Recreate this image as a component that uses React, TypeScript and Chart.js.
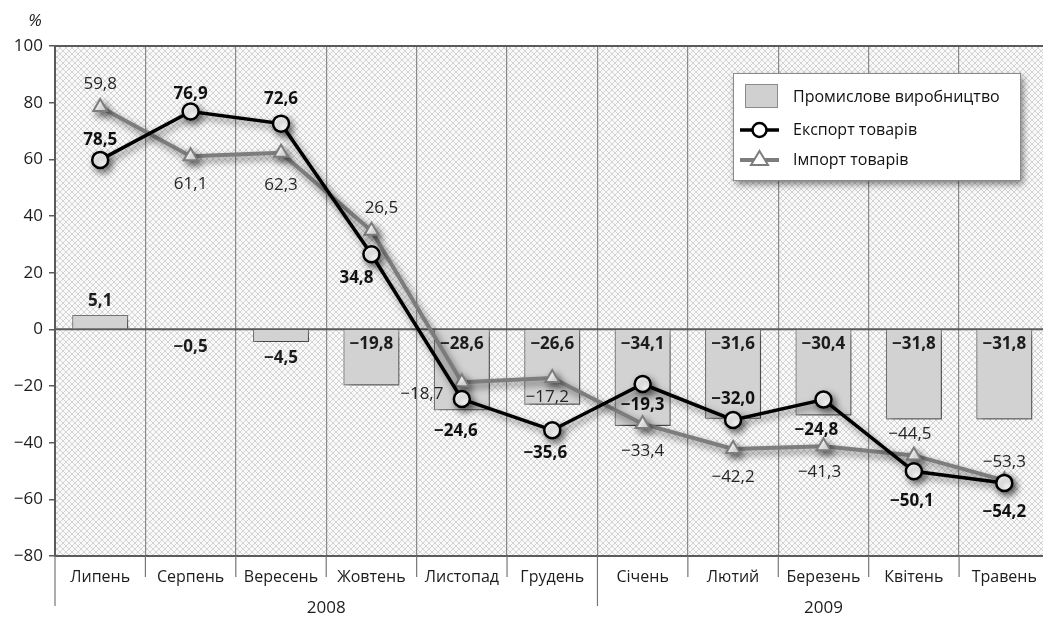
import React, { useEffect, useRef } from 'react';
import { Chart, registerables } from 'chart.js';

Chart.register(...registerables);

const categories = ['Липень', 'Серпень', 'Вересень', 'Жовтень', 'Листопад', 'Грудень', 'Січень', 'Лютий', 'Березень', 'Квітень', 'Травень'];
const years = ['2008', '2009'];
const yearStartIndex = [0, 6];
const industryValues = [5.1, -0.5, -4.5, -19.8, -28.6, -26.6, -34.1, -31.6, -30.4, -31.8, -31.8];
const exportValues = [59.8, 76.9, 72.6, 26.5, -24.6, -35.6, -19.3, -32.0, -24.8, -50.1, -54.2];
const exportLabels = ['78,5', '76,9', '72,6', '34,8', '−24,6', '−35,6', '−19,3', '−32,0', '−24,8', '−50,1', '−54,2'];
const importValues = [78.5, 61.1, 62.3, 34.8, -18.7, -17.2, -33.4, -42.2, -41.3, -44.5, -53.3];
const importLabels = ['59,8', '61,1', '62,3', '26,5', '−18,7', '−17,2', '−33,4', '−42,2', '−41,3', '−44,5', '−53,3'];
const seriesNames = ['Промислове виробництво', 'Експорт товарів', 'Імпорт товарів'];
const yMin = -80;
const yMax = 100;
const yStep = 20;

// label placement (layout only)
const exportOffsets: [number, number][] = [[0, -20], [0, -17], [0, -24], [-15, 24], [-6, 32], [-7, 23], [0, 21], [0, -21], [-7, 31], [-2, 30], [0, 29]];
const importOffsets: [number, number][] = [[0, -23], [0, 28], [0, 32], [10, -23], [-40, 12], [-5, 19], [0, 27], [0, 28], [-4, 26], [-4, -21], [0, -18]];

const FONT = '"Open Sans", "DejaVu Sans", sans-serif';

function fmt(v: number): string {
  const s = Math.abs(v).toFixed(1).replace('.', ',');
  return v < 0 ? '−' + s : s;
}

function makePattern(ctx: CanvasRenderingContext2D) {
  const c = document.createElement('canvas');
  c.width = 6;
  c.height = 6;
  const p = c.getContext('2d')!;
  p.fillStyle = '#f9f9f9';
  p.fillRect(0, 0, 6, 6);
  p.fillStyle = '#d4d4d4';
  for (let i = 0; i < 6; i++) {
    p.fillRect(i, i, 1, 1);
    p.fillRect(5 - i, i, 1, 1);
  }
  return ctx.createPattern(c, 'repeat');
}

const decorPlugin = {
  id: 'decor',
  beforeDatasetsDraw(chart: any) {
    const { ctx, chartArea: a, scales } = chart;
    const y0 = scales.y.getPixelForValue(0);
    ctx.save();
    ctx.strokeStyle = '#5a5a5a';
    ctx.lineWidth = 2;
    ctx.beginPath();
    ctx.moveTo(a.left, y0);
    ctx.lineTo(a.right, y0);
    ctx.moveTo(a.left, a.top);
    ctx.lineTo(a.right, a.top);
    ctx.stroke();
    ctx.restore();
  },
  beforeDraw(chart: any) {
    const { ctx, chartArea: a } = chart;
    ctx.save();
    ctx.fillStyle = '#ffffff';
    ctx.fillRect(0, 0, chart.width, chart.height);
    const pat = makePattern(ctx);
    if (pat) {
      ctx.fillStyle = pat;
      ctx.fillRect(a.left, a.top, a.right - a.left, a.bottom - a.top);
    }
    ctx.restore();
  },
  beforeDatasetDraw(chart: any) {
    const ctx = chart.ctx;
    ctx.save();
    ctx.shadowColor = 'rgba(0,0,0,0.5)';
    ctx.shadowBlur = 7;
    ctx.shadowOffsetX = 3;
    ctx.shadowOffsetY = 4;
  },
  afterDatasetDraw(chart: any) {
    chart.ctx.restore();
  },
  afterDatasetsDraw(chart: any) {
    const { ctx, scales } = chart;
    const x = scales.x;
    const y = scales.y;
    ctx.save();
    ctx.textAlign = 'center';
    ctx.textBaseline = 'middle';
    // bar labels
    ctx.font = `bold 17px ${FONT}`;
    ctx.fillStyle = '#1c1c1c';
    const y0 = y.getPixelForValue(0);
    industryValues.forEach((v, i) => {
      const px = x.getPixelForValue(i);
      const py = y.getPixelForValue(v);
      let ly;
      if (v >= 0) ly = py - 14;
      else if (v > -10) ly = py + 16;
      else ly = y0 + 15;
      ctx.fillText(fmt(v), px, ly);
    });
    // import labels
    ctx.font = `17px ${FONT}`;
    ctx.fillStyle = '#262626';
    importValues.forEach((v, i) => {
      const [dx, dy] = importOffsets[i];
      ctx.fillText(importLabels[i], x.getPixelForValue(i) + dx, y.getPixelForValue(v) + dy);
    });
    // export labels
    ctx.font = `bold 17px ${FONT}`;
    ctx.fillStyle = '#111111';
    exportValues.forEach((v, i) => {
      const [dx, dy] = exportOffsets[i];
      ctx.fillText(exportLabels[i], x.getPixelForValue(i) + dx, y.getPixelForValue(v) + dy);
    });
    ctx.restore();
  },
  afterDraw(chart: any) {
    const { ctx, chartArea: a, scales } = chart;
    const x = scales.x;
    const step = x.getPixelForValue(1) - x.getPixelForValue(0);
    ctx.save();
    // category ticks below axis
    ctx.strokeStyle = '#777';
    ctx.lineWidth = 1.2;
    ctx.beginPath();
    for (let i = 0; i <= categories.length; i++) {
      const bx = x.getPixelForValue(i) - step / 2;
      const isYear = yearStartIndex.includes(i) || i === categories.length;
      ctx.moveTo(bx, a.bottom);
      ctx.lineTo(bx, isYear ? a.bottom + 50 : a.bottom + 21);
    }
    ctx.stroke();
    // year labels
    ctx.font = `17px ${FONT}`;
    ctx.fillStyle = '#1c1c1c';
    ctx.textAlign = 'center';
    ctx.textBaseline = 'middle';
    years.forEach((yr, k) => {
      const s = yearStartIndex[k];
      const e = k + 1 < yearStartIndex.length ? yearStartIndex[k + 1] : categories.length;
      const cx = (x.getPixelForValue(s) + x.getPixelForValue(e - 1)) / 2;
      ctx.fillText(yr, cx, a.bottom + 52);
    });
    // percent sign
    ctx.font = `italic 17px ${FONT}`;
    ctx.fillText('%', 35, 21);

    // legend
    const lx = 733, ly = 73, lw = 287, lh = 107;
    ctx.save();
    ctx.shadowColor = 'rgba(0,0,0,0.5)';
    ctx.shadowBlur = 7;
    ctx.shadowOffsetX = 3;
    ctx.shadowOffsetY = 4;
    ctx.fillStyle = '#ffffff';
    ctx.fillRect(lx, ly, lw, lh);
    ctx.restore();
    ctx.strokeStyle = '#8a8a8a';
    ctx.lineWidth = 1;
    ctx.strokeRect(lx + 0.5, ly + 0.5, lw, lh);

    ctx.fillStyle = '#d0d0d0';
    ctx.fillRect(745, 84, 32, 23);
    ctx.strokeStyle = '#8a8a8a';
    ctx.strokeRect(745.5, 84.5, 32, 23);

    ctx.strokeStyle = '#000';
    ctx.lineWidth = 3.5;
    ctx.beginPath();
    ctx.moveTo(740, 130);
    ctx.lineTo(779, 130);
    ctx.stroke();
    ctx.beginPath();
    ctx.arc(759.5, 130, 7, 0, Math.PI * 2);
    ctx.fillStyle = '#fff';
    ctx.fill();
    ctx.lineWidth = 2.5;
    ctx.stroke();

    ctx.strokeStyle = '#7d7d7d';
    ctx.lineWidth = 4;
    ctx.beginPath();
    ctx.moveTo(740, 160);
    ctx.lineTo(779, 160);
    ctx.stroke();
    ctx.beginPath();
    ctx.moveTo(759.5, 151);
    ctx.lineTo(768, 165);
    ctx.lineTo(751, 165);
    ctx.closePath();
    ctx.fillStyle = '#fff';
    ctx.fill();
    ctx.lineWidth = 2;
    ctx.stroke();

    ctx.font = `16px ${FONT}`;
    ctx.fillStyle = '#111';
    ctx.textAlign = 'left';
    ctx.textBaseline = 'middle';
    ctx.fillText(seriesNames[0], 793, 97);
    ctx.fillText(seriesNames[1], 793, 130);
    ctx.fillText(seriesNames[2], 793, 160);
    ctx.restore();
  },
};

export default function App() {
  const ref = useRef<HTMLCanvasElement | null>(null);
  useEffect(() => {
    if (!ref.current) return;
    const chart = new Chart(ref.current, {
      type: 'bar',
      data: {
        labels: categories,
        datasets: [
          {
            type: 'line',
            label: seriesNames[1],
            data: exportValues,
            borderColor: '#000000',
            borderWidth: 3.5,
            pointStyle: 'circle',
            pointRadius: 8,
            pointBackgroundColor: '#ffffff',
            pointBorderColor: '#000000',
            pointBorderWidth: 2.5,
            order: 1,
          } as any,
          {
            type: 'line',
            label: seriesNames[2],
            data: importValues,
            borderColor: '#7d7d7d',
            borderWidth: 4,
            pointStyle: 'triangle',
            pointRadius: 8,
            pointBackgroundColor: '#ffffff',
            pointBorderColor: '#7d7d7d',
            pointBorderWidth: 2,
            order: 2,
          } as any,
          {
            type: 'bar',
            label: seriesNames[0],
            data: industryValues,
            backgroundColor: '#d2d2d2',
            borderColor: '#7a7a7a',
            borderWidth: 1.2,
            barPercentage: 0.62,
            categoryPercentage: 1,
            order: 3,
          } as any,
        ],
      },
      options: {
        animation: false,
        responsive: false,
        devicePixelRatio: 1,
        layout: { padding: { top: 46, right: 7, left: 0, bottom: 0 } },
        plugins: { legend: { display: false }, tooltip: { enabled: false } },
        scales: {
          x: {
            offset: true,
            grid: { offset: true, drawTicks: false, color: '#8a8a8a', lineWidth: 1.2 },
            border: { display: true, color: '#5a5a5a', width: 2 },
            ticks: { padding: 12, color: '#1c1c1c', font: { family: FONT, size: 16 } },
            afterFit: (s: any) => { s.height = 63; },
          },
          y: {
            min: yMin,
            max: yMax,
            ticks: {
              stepSize: yStep,
              padding: 6,
              color: '#1c1c1c',
              font: { family: FONT, size: 17 },
              callback: (v: any) => (Number(v) < 0 ? '−' + Math.abs(Number(v)) : String(v)),
            },
            grid: { drawOnChartArea: false, drawTicks: true, tickLength: 6, color: '#5a5a5a', lineWidth: 1.5 },
            border: { display: true, color: '#5a5a5a', width: 2 },
            afterFit: (s: any) => { s.width = 55; },
          },
        },
      },
      plugins: [decorPlugin],
    });
    return () => chart.destroy();
  }, []);
  return (
    <div style={{ position: 'fixed', left: 0, top: 0, width: 1043, height: 619, overflow: 'hidden', background: '#fff' }}>
      <canvas ref={ref} width={1060} height={619} style={{ display: 'block', width: 1060, height: 619 }} />
    </div>
  );
}
